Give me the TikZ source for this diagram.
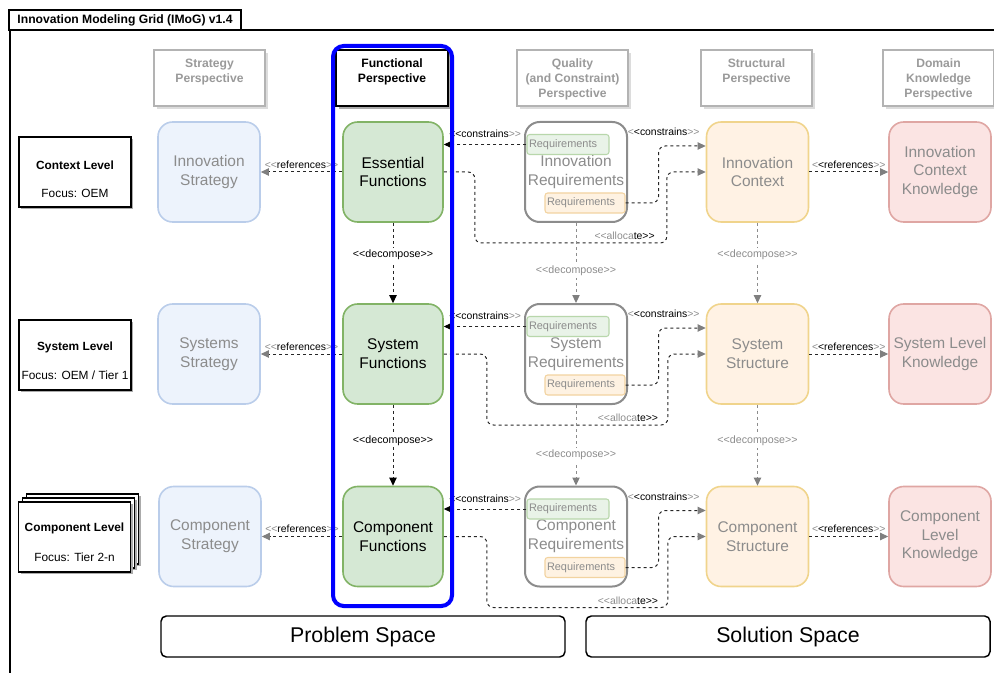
\documentclass[tikz,border=0pt]{standalone}
\usepackage{fontspec}
\setmainfont{Liberation Sans}
\usetikzlibrary{arrows.meta,calc,shadows}

% palette
\definecolor{fadetext}{HTML}{8C8C8C}
\definecolor{hdrtext}{HTML}{9A9A9A}
\definecolor{hdrline}{HTML}{B3B3B3}
\definecolor{shadowlight}{HTML}{DCDCDC}
\definecolor{shadowdark}{HTML}{ABABAB}
\definecolor{stratfill}{HTML}{EDF3FC}
\definecolor{stratline}{HTML}{BACDEA}
\definecolor{funcfill}{HTML}{D5E8D4}
\definecolor{funcline}{HTML}{82B366}
\definecolor{reqline}{HTML}{8C8C8C}
\definecolor{strfill}{HTML}{FFF2E4}
\definecolor{strline}{HTML}{F0D48C}
\definecolor{knfill}{HTML}{FBE4E3}
\definecolor{knline}{HTML}{DFA6A3}
\definecolor{greqfill}{HTML}{E9F3E8}
\definecolor{greqline}{HTML}{B8D7AB}
\definecolor{oreqfill}{HTML}{FEF2E2}
\definecolor{oreqline}{HTML}{F2D3A0}
\definecolor{tipgray}{HTML}{7F7F7F}

% stereotype brackets (kept as two separate characters)
\newcommand\LL{<{}<}
\newcommand\GG{>{}>}
\newcommand\gr[1]{\textcolor{fadetext}{#1}}

\tikzset{
  every node/.style={inner sep=0pt},
  cell/.style={rounded corners=11pt, line width=1.2pt, minimum width=76.5pt,
    minimum height=75pt, align=center, font=\fontsize{11.6}{14}\selectfont},
  stratcell/.style={cell, draw=stratline, fill=stratfill, text=fadetext},
  funccell/.style={cell, draw=funcline, fill=funcfill, text=black, minimum width=75pt},
  reqcell/.style={cell, draw=reqline, fill=white, text=fadetext, line width=1.5pt},
  strcell/.style={cell, draw=strline, fill=strfill, text=fadetext},
  kncell/.style={cell, draw=knline, fill=knfill, text=fadetext},
  subreq/.style={rounded corners=2pt, line width=0.8pt, minimum height=15pt,
    inner xsep=1.5pt, align=left, font=\fontsize{8.2}{9}\selectfont, text=fadetext},
  greq/.style={subreq, draw=greqline, fill=greqfill, text width=58.5pt},
  oreq/.style={subreq, draw=oreqline, fill=oreqfill, text width=57pt},
  hdrbox/.style={draw=hdrline, fill=white, line width=0.9pt, minimum width=83.25pt,
    minimum height=42pt, drop shadow={shadow xshift=2pt, shadow yshift=-2pt,
    fill=shadowlight, opacity=1}},
  hdrtxt/.style={anchor=north, align=center, text=hdrtext,
    font=\bfseries\fontsize{9.1}{11.2}\selectfont},
  lvlbox/.style={draw=black, fill=white, line width=0.8pt, minimum width=84pt,
    minimum height=52.5pt, drop shadow={shadow xshift=1.8pt, shadow yshift=-1.8pt,
    fill=shadowdark, opacity=1}},
  lvltitle/.style={font=\bfseries\fontsize{8.9}{10}\selectfont},
  lvlfocus/.style={font=\fontsize{8.9}{10}\selectfont},
  spacebox/.style={draw=black, fill=white, rounded corners=4pt, line width=1.1pt,
    minimum width=303pt, minimum height=30.75pt, font=\fontsize{16}{18}\selectfont},
  conn/.style={draw=black!85, line width=0.75pt, dash pattern=on 2.25pt off 2.25pt},
  gconn/.style={conn, draw=fadetext},
  graytip/.style={-{Triangle[length=6pt,width=5.5pt,color=tipgray]}},
  blacktip/.style={-{Triangle[length=6pt,width=5.5pt,color=black]}},
  lbl/.style={font=\fontsize{7.8}{9}\selectfont, inner sep=0.5pt},
  dlbl/.style={font=\fontsize{8}{9}\selectfont, fill=white, inner sep=1.5pt},
  dlblg/.style={dlbl, text=fadetext},
}

\begin{document}
\begin{tikzpicture}[x=0.75pt,y=-0.75pt]
\useasboundingbox (0,0) rectangle (994,673);

% outer frame and title tab
\draw[line width=1.5pt] (10,673) -- (10,30) -- (994,30);
\node[draw=black, fill=white, line width=1.1pt, minimum width=174pt, minimum height=15pt,
  font=\bfseries\fontsize{9.1}{11}\selectfont] (title) at (125,20)
  {Innovation Modeling Grid (IMoG) v1.4};

% column headers
\node[hdrbox] (hs) at (209.5,78) {};
\node[hdrtxt] (hst) at ($(hs.north)+(0,9)$) {Strategy\\Perspective};
\node[hdrbox, draw=black, drop shadow={shadow xshift=2pt, shadow yshift=-2pt,
  fill=shadowdark, opacity=1}, minimum width=84pt] (hf) at (392,78) {};
\node[hdrtxt, text=black] (hft) at ($(hf.north)+(0,9)$) {Functional\\Perspective};
\node[hdrbox] (hq) at (572.5,78) {};
\node[hdrtxt] (hqt) at ($(hq.north)+(0,9)$) {Quality\\(and Constraint)\\Perspective};
\node[hdrbox] (ht) at (756.5,78) {};
\node[hdrtxt] (htt) at ($(ht.north)+(0,9)$) {Structural\\Perspective};
\node[hdrbox] (hk) at (938.5,78) {};
\node[hdrtxt] (hkt) at ($(hk.north)+(0,9)$) {Domain\\Knowledge\\Perspective};

% level descriptions
\node[lvlbox] (lv1) at (75,172) {};
\node[lvltitle] (lv1a) at (75,165) {Context Level};
\node[lvlfocus] (lv1b) at (75,193) {Focus: OEM};
\node[lvlbox] (lv2) at (75,355) {};
\node[lvltitle] (lv2a) at (75,347) {System Level};
\node[lvlfocus] (lv2b) at (75,375) {Focus: OEM / Tier 1};
\node[lvlbox] (lv3c) at (82.5,529) {};
\node[lvlbox] (lv3b) at (78.5,533) {};
\node[lvlbox] (lv3) at (74.5,537) {};
\node[lvltitle] (lv3t) at (74.5,528) {Component Level};
\node[lvlfocus] (lv3f) at (74.5,557) {Focus: Tier 2-n};

% context level row
\node[stratcell] (s1) at (209,172) {Innovation\\Strategy};
\node[funccell] (f1) at (393,172) {Essential\\Functions};
\node[reqcell] (r1) at (576,172) {Innovation\\Requirements};
\node[greq] (g1) at (568,144.5) {Requirements};
\node[oreq] (o1) at (585,203) {Requirements};
\node[strcell] (t1) at (757.5,172) {Innovation\\Context};
\node[kncell] (k1) at (940,172) {Innovation\\Context\\Knowledge};

% system level row
\node[stratcell] (s2) at (209,354) {Systems\\Strategy};
\node[funccell] (f2) at (393,354) {System\\Functions};
\node[reqcell] (r2) at (576,354) {System\\Requirements};
\node[greq] (g2) at (568,326.5) {Requirements};
\node[oreq] (o2) at (585,385) {Requirements};
\node[strcell] (t2) at (757.5,354) {System\\Structure};
\node[kncell] (k2) at (940,354) {System Level\\Knowledge};

% component level row
\node[stratcell] (s3) at (210,536.5) {Component\\Strategy};
\node[funccell] (f3) at (393,536.5) {Component\\Functions};
\node[reqcell] (r3) at (576,536.5) {Component\\Requirements};
\node[greq] (g3) at (568,509) {Requirements};
\node[oreq] (o3) at (585,567.5) {Requirements};
\node[strcell] (t3) at (757.5,536.5) {Component\\Structure};
\node[kncell] (k3) at (940,536.5) {Component\\Level\\Knowledge};

% relations within each level
\foreach \r/\ax/\bx in {1/31/192, 2/43/181, 3/43/181}{
  \draw[conn, graytip] (f\r.west) -- (s\r.east)
    node[lbl, midway, above=2pt] {\gr{\LL}references\gr{\GG}};
  \draw[conn, blacktip] (g\r.west) -- (f\r.east |- g\r.west)
    node[lbl, midway, above=4pt] {\LL constrains\gr{\GG}};
  \draw[conn, graytip, rounded corners=5pt] (f\r.east) -- ++(\ax,0) -- ++(0,71)
    -- ++(\bx,0) node[lbl, pos=0.78, above=1.5pt] {\gr{\LL alloca}te\GG}
    |- (t\r.west);
  \draw[conn, graytip, rounded corners=5pt] (o\r.east) -- ++(33,0)
    |- ($(t\r.west)+(0,-26)$);
  \node[lbl] (c\r) at ($(t\r.west)+(-42,-40)$) {\gr{<}<constrains\gr{\GG}};
  \draw[conn, graytip] (t\r.east) -- (k\r.west)
    node[lbl, midway, above=2pt] {\gr{<}<references\gr{\GG}};
}

% decomposition between levels
\draw[conn, blacktip] (f1.south) -- (f2.north) node[dlbl, pos=0.4] {\LL decompose\GG};
\draw[conn, blacktip] (f2.south) -- (f3.north) node[dlbl, pos=0.44] {\LL decompose\GG};
\draw[gconn, graytip] (r1.south) -- (r2.north) node[dlblg, pos=0.6] {\LL decompose\GG};
\draw[gconn, graytip] (r2.south) -- (r3.north) node[dlblg, pos=0.62] {\LL decompose\GG};
\draw[gconn, graytip] (t1.south) -- (t2.north) node[dlblg, pos=0.4] {\LL decompose\GG};
\draw[gconn, graytip] (t2.south) -- (t3.north) node[dlblg, pos=0.45] {\LL decompose\GG};

% highlighted functional perspective
\node[draw=blue, line width=3pt, rounded corners=8pt, minimum width=89.25pt,
  minimum height=420pt] (fpg) at (392.5,326) {};

% problem and solution space
\node[spacebox] (ps) at (363,636.5) {Problem Space};
\node[spacebox] (ss) at (788,636.5) {Solution Space};
\end{tikzpicture}
\end{document}
